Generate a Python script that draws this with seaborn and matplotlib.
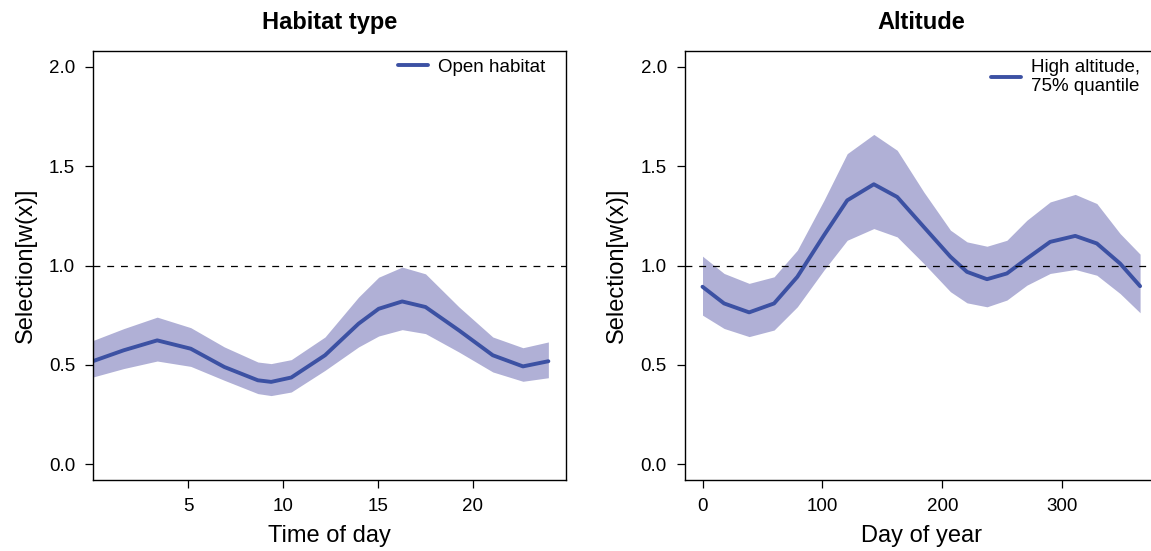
import numpy as np
import pandas as pd
import matplotlib
matplotlib.use("Agg")
import matplotlib.pyplot as plt
import seaborn as sns

sns.set_style("ticks")
plt.rcParams['font.family'] = ['Liberation Sans', 'DejaVu Sans']
plt.rcParams['text.color'] = 'black'
plt.rcParams['axes.labelcolor'] = 'black'
plt.rcParams['xtick.color'] = 'black'
plt.rcParams['ytick.color'] = 'black'

# Habitat type panel
hour = [0, 1.6, 3.37, 5.14, 6.91, 8.68, 9.38, 10.44, 12.22, 13.99, 15.05, 16.29, 17.52, 19.29, 21.07, 22.66, 24]
hab_fit = [0.519, 0.573, 0.623, 0.581, 0.489, 0.422, 0.414, 0.436, 0.548, 0.707, 0.782, 0.819, 0.791, 0.673, 0.548, 0.492, 0.518]
hab_upper = [0.623, 0.682, 0.740, 0.687, 0.590, 0.514, 0.506, 0.526, 0.640, 0.841, 0.941, 0.992, 0.958, 0.791, 0.640, 0.586, 0.615]
hab_lower = [0.439, 0.481, 0.519, 0.492, 0.422, 0.355, 0.345, 0.363, 0.472, 0.590, 0.645, 0.677, 0.657, 0.564, 0.464, 0.417, 0.435]

# Altitude panel
day = [0, 18, 38.9, 59.7, 79.1, 101.3, 120.7, 142.9, 162.4, 184.6, 206.8, 220.6, 237.3, 253.9, 270.6, 290, 310.9, 328.9, 348.3, 365]
alt_fit = [0.893, 0.809, 0.764, 0.809, 0.943, 1.152, 1.328, 1.409, 1.345, 1.194, 1.044, 0.968, 0.931, 0.960, 1.035, 1.119, 1.149, 1.111, 1.010, 0.896]
alt_upper = [1.047, 0.960, 0.910, 0.943, 1.077, 1.328, 1.563, 1.660, 1.580, 1.370, 1.178, 1.119, 1.097, 1.127, 1.228, 1.320, 1.358, 1.312, 1.161, 1.057]
alt_lower = [0.750, 0.683, 0.642, 0.675, 0.792, 0.977, 1.127, 1.186, 1.144, 1.010, 0.868, 0.812, 0.792, 0.826, 0.901, 0.960, 0.980, 0.951, 0.859, 0.762]

line_col = "#3c51a3"
band_col = "#b0b0d6"

fig = plt.figure(figsize=(11.51, 5.51), dpi=100)
ax1 = fig.add_axes([93.3 / 1151, 1 - 480 / 551, (566 - 93.3) / 1151, (480 - 51) / 551])
ax2 = fig.add_axes([685 / 1151, 1 - 480 / 551, (1157.6 - 685) / 1151, (480 - 51) / 551])

panels = [
    (ax1, hour, hab_fit, hab_lower, hab_upper, "Habitat type", "Time of day", "Open habitat",
     (0, 24.93), [5, 10, 15, 20], 17),
    (ax2, day, alt_fit, alt_lower, alt_upper, "Altitude", "Day of year", "High altitude,\n75% quantile",
     (-14.6, 379.6), [0, 100, 200, 300], 14),
]

for ax, x, fit, lo, hi, title, xlab, leg, xlim, xt, rgap in panels:
    ax.fill_between(x, lo, hi, color=band_col, linewidth=0)
    df = pd.DataFrame({"x": x, "y": fit})
    sns.lineplot(data=df, x="x", y="y", ax=ax, color=line_col, linewidth=2.8, label=leg)
    ax.axhline(1.0, color="black", linestyle=(0, (5.5, 5.5)), linewidth=0.9)
    ax.set_xlim(*xlim)
    ax.set_ylim(-0.08, 2.08)
    ax.set_xticks(xt)
    ax.set_yticks([0, 0.5, 1.0, 1.5, 2.0])
    ax.set_yticklabels(["0.0", "0.5", "1.0", "1.5", "2.0"])
    ax.tick_params(direction="out", length=6, width=0.9, labelsize=13.5, pad=7, color="black")
    for s in ax.spines.values():
        s.set_visible(True)
        s.set_linewidth(1.0)
        s.set_color("black")
    ax.set_title(title, fontsize=17, fontweight="bold", pad=16)
    ax.set_xlabel(xlab, fontsize=17, labelpad=7)
    ax.set_ylabel("Selection[w(x)]", fontsize=17, labelpad=9)
    ax.legend(loc="upper right", frameon=False, fontsize=13.5, handlelength=1.6,
              handletextpad=0.55, borderaxespad=0, borderpad=0.2, labelspacing=0.2,
              bbox_to_anchor=(1 - rgap / 472.7, 1 - 4 / 429))

fig.savefig("out.png", dpi=100)
